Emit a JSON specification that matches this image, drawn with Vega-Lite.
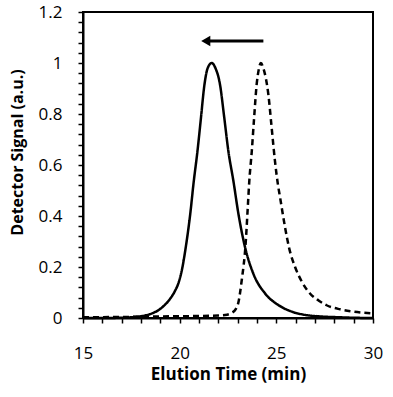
{
  "$schema": "https://vega.github.io/schema/vega-lite/v6.json",
  "autosize": {"type": "none"},
  "width": 290,
  "height": 306,
  "padding": {"left": 83, "top": 12, "right": 20, "bottom": 79},
  "background": "white",
  "config": {
    "view": {"stroke": "black", "strokeWidth": 2}
  },
  "data": {"values": [
      {"k": "solid", "t": 15, "s": 0}, {"k": "solid", "t": 16, "s": 0}, {"k": "solid", "t": 17, "s": 0.001}, {"k": "solid", "t": 17.5, "s": 0.003},
      {"k": "solid", "t": 18, "s": 0.007}, {"k": "solid", "t": 18.5, "s": 0.016}, {"k": "solid", "t": 19, "s": 0.036}, {"k": "solid", "t": 19.5, "s": 0.075},
      {"k": "solid", "t": 19.75, "s": 0.105}, {"k": "solid", "t": 19.95, "s": 0.14}, {"k": "solid", "t": 20.12, "s": 0.19},
      {"k": "solid", "t": 20.3, "s": 0.27}, {"k": "solid", "t": 20.55, "s": 0.41}, {"k": "solid", "t": 20.72, "s": 0.53},
      {"k": "solid", "t": 20.92, "s": 0.654}, {"k": "solid", "t": 21.1, "s": 0.784}, {"k": "solid", "t": 21.28, "s": 0.914}, {"k": "solid", "t": 21.45, "s": 0.98},
      {"k": "solid", "t": 21.66, "s": 1.0}, {"k": "solid", "t": 21.85, "s": 0.98}, {"k": "solid", "t": 22.09, "s": 0.914}, {"k": "solid", "t": 22.3, "s": 0.79},
      {"k": "solid", "t": 22.52, "s": 0.654}, {"k": "solid", "t": 22.78, "s": 0.537}, {"k": "solid", "t": 23.04, "s": 0.408}, {"k": "solid", "t": 23.38, "s": 0.278},
      {"k": "solid", "t": 23.81, "s": 0.174}, {"k": "solid", "t": 24.42, "s": 0.096}, {"k": "solid", "t": 25.1, "s": 0.051},
      {"k": "solid", "t": 25.8, "s": 0.025}, {"k": "solid", "t": 26.5, "s": 0.012}, {"k": "solid", "t": 27.3, "s": 0.006}, {"k": "solid", "t": 28.2, "s": 0.003},
      {"k": "solid", "t": 29, "s": 0.001}, {"k": "solid", "t": 30, "s": 0},
      {"k": "dashed", "t": 15, "s": 0.003}, {"k": "dashed", "t": 17, "s": 0.004}, {"k": "dashed", "t": 19, "s": 0.006}, {"k": "dashed", "t": 21, "s": 0.008},
      {"k": "dashed", "t": 22, "s": 0.01}, {"k": "dashed", "t": 22.45, "s": 0.013}, {"k": "dashed", "t": 22.69, "s": 0.02}, {"k": "dashed", "t": 22.9, "s": 0.035},
      {"k": "dashed", "t": 23.04, "s": 0.062}, {"k": "dashed", "t": 23.21, "s": 0.148}, {"k": "dashed", "t": 23.42, "s": 0.3}, {"k": "dashed", "t": 23.52, "s": 0.43},
      {"k": "dashed", "t": 23.6, "s": 0.535}, {"k": "dashed", "t": 23.73, "s": 0.654}, {"k": "dashed", "t": 23.85, "s": 0.784}, {"k": "dashed", "t": 23.98, "s": 0.914},
      {"k": "dashed", "t": 24.08, "s": 0.97}, {"k": "dashed", "t": 24.2, "s": 1.0}, {"k": "dashed", "t": 24.33, "s": 0.979}, {"k": "dashed", "t": 24.59, "s": 0.875},
      {"k": "dashed", "t": 24.76, "s": 0.745}, {"k": "dashed", "t": 24.93, "s": 0.615}, {"k": "dashed", "t": 25.07, "s": 0.53}, {"k": "dashed", "t": 25.2, "s": 0.47},
      {"k": "dashed", "t": 25.45, "s": 0.356}, {"k": "dashed", "t": 25.66, "s": 0.275}, {"k": "dashed", "t": 25.97, "s": 0.2}, {"k": "dashed", "t": 26.3, "s": 0.145},
      {"k": "dashed", "t": 26.74, "s": 0.096}, {"k": "dashed", "t": 27.2, "s": 0.068}, {"k": "dashed", "t": 27.6, "s": 0.05}, {"k": "dashed", "t": 28.3, "s": 0.034},
      {"k": "dashed", "t": 29, "s": 0.025}, {"k": "dashed", "t": 30, "s": 0.018},
      {"k": "arrow", "t": 24.33, "t2": 21.5, "s": 1.086},
      {"k": "tip", "t": 21.35, "s": 1.086}
  ]},
  "encoding": {
    "x": {"field": "t", "type": "quantitative", "scale": {"domain": [15, 30], "nice": false},
      "axis": {
        "title": "Elution Time (min)", "titleFontSize": 17, "titleFontWeight": "bold", "titlePadding": 5,
        "titleFont": "Open Sans", "titleColor": "black",
        "values": [15,16,17,18,19,20,21,22,23,24,25,26,27,28,29,30],
        "labelExpr": "datum.value % 5 === 0 ? datum.label : ''",
        "labelOverlap": false, "labelFlush": false, "labelBound": false,
        "labelFont": "Open Sans", "labelColor": "black",
        "labelFontSize": 17, "labelPadding": 22,
        "domainColor": "black", "domainWidth": 2,
        "ticks": true, "tickSize": 5, "tickColor": "black", "tickWidth": 1.5, "tickOpacity": 1,
        "grid": true, "gridOpacity": 0
      }
    },
    "y": {"field": "s", "type": "quantitative", "scale": {"domain": [0, 1.2], "nice": false},
      "axis": {
        "title": "Detector Signal (a.u.)", "titleFontSize": 16, "titleFontWeight": "bold", "titlePadding": 13,
        "titleFont": "Open Sans", "titleColor": "black", "titleY": 140,
        "values": [0,0.04,0.08,0.12,0.16,0.2,0.24,0.28,0.32,0.36,0.4,0.44,0.48,0.52,0.56,0.6,0.64,0.68,0.72,0.76,0.8,0.84,0.88,0.92,0.96,1,1.04,1.08,1.12,1.16,1.2],
        "format": "~g",
        "labelExpr": "abs(datum.value*5-round(datum.value*5))<0.001 ? datum.label : ''",
        "labelOverlap": false, "labelFlush": false, "labelBound": false,
        "labelFont": "Open Sans", "labelColor": "black",
        "labelFontSize": 17, "labelPadding": 16,
        "domainColor": "black", "domainWidth": 2,
        "ticks": true, "tickSize": 5, "tickColor": "black", "tickWidth": 1.5, "tickOpacity": 1,
        "grid": true, "gridOpacity": 0
      }
    }
  },
  "layer": [
    {
      "transform": [{"filter": "datum.k === 'solid' || datum.k === 'dashed'"}],
      "mark": {"type": "line", "color": "black", "strokeWidth": 2.5, "interpolate": "monotone"},
      "encoding": {
        "strokeDash": {"field": "k", "type": "nominal", "scale": {"domain": ["solid", "dashed"], "range": [[1, 0], [6, 4]]}, "legend": null}
      }
    },
    {
      "transform": [{"filter": "datum.k === 'arrow'"}],
      "mark": {"type": "rule", "color": "black", "strokeWidth": 3},
      "encoding": {"x2": {"field": "t2"}}
    },
    {
      "transform": [{"filter": "datum.k === 'tip'"}],
      "mark": {"type": "point", "shape": "triangle-left", "filled": true, "color": "black", "size": 110, "opacity": 1},
      "encoding": {}
    }
  ]
}
